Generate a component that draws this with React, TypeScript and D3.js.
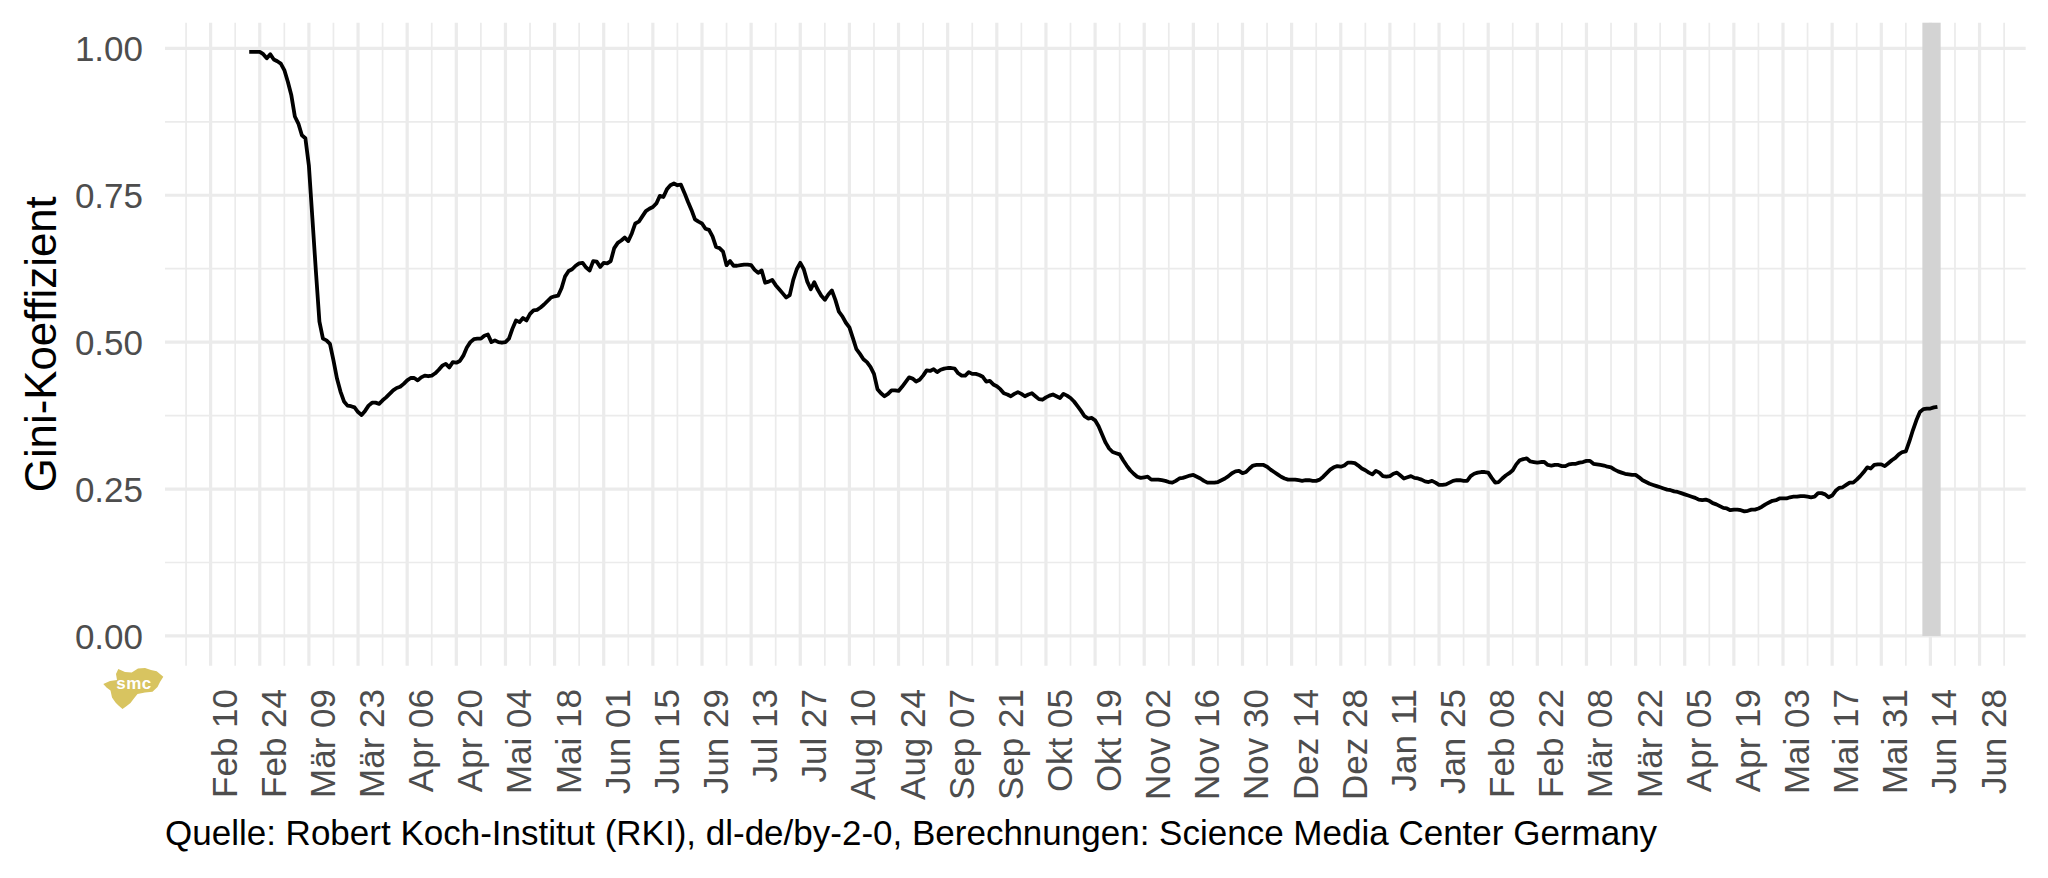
import React, { useEffect } from "react";
import * as d3 from "d3";

// ---------- data ----------
const seriesStart = "2020-02-21";
// daily Gini coefficient values starting at seriesStart
const giniValues = [
  0.994, 0.994, 0.994, 0.994, 0.990, 0.983, 0.990, 0.981, 0.978, 0.974,
  0.963, 0.943, 0.920, 0.884, 0.872, 0.852, 0.847, 0.800, 0.710, 0.620,
  0.535, 0.506, 0.503, 0.497, 0.469, 0.438, 0.416, 0.399, 0.392, 0.391,
  0.389, 0.381, 0.376, 0.383, 0.392, 0.397, 0.397, 0.395, 0.401, 0.406,
  0.412, 0.418, 0.422, 0.424, 0.429, 0.435, 0.439, 0.439, 0.435, 0.440,
  0.443, 0.442, 0.443, 0.447, 0.453, 0.460, 0.463, 0.457, 0.466, 0.465,
  0.468, 0.477, 0.491, 0.500, 0.505, 0.506, 0.506, 0.511, 0.513, 0.500,
  0.503, 0.500, 0.499, 0.500, 0.506, 0.523, 0.537, 0.534, 0.541, 0.537,
  0.548, 0.554, 0.555, 0.559, 0.564, 0.570, 0.576, 0.578, 0.579, 0.592,
  0.612, 0.621, 0.624, 0.630, 0.634, 0.635, 0.627, 0.622, 0.638, 0.637,
  0.628, 0.635, 0.634, 0.638, 0.660, 0.669, 0.673, 0.678, 0.672, 0.685,
  0.702, 0.705, 0.714, 0.723, 0.727, 0.730, 0.736, 0.749, 0.747, 0.760,
  0.767, 0.770, 0.767, 0.768, 0.754, 0.739, 0.725, 0.709, 0.705, 0.702,
  0.693, 0.691, 0.680, 0.662, 0.660, 0.654, 0.631, 0.638, 0.630, 0.630,
  0.631, 0.632, 0.632, 0.631, 0.623, 0.618, 0.622, 0.601, 0.603, 0.606,
  0.597, 0.590, 0.583, 0.576, 0.580, 0.606, 0.624, 0.635, 0.624, 0.603,
  0.590, 0.602, 0.589, 0.579, 0.572, 0.581, 0.588, 0.572, 0.552, 0.544,
  0.533, 0.525, 0.507, 0.488, 0.480, 0.471, 0.466, 0.458, 0.446, 0.420,
  0.413, 0.408, 0.412, 0.418, 0.418, 0.417, 0.424, 0.432, 0.440, 0.438,
  0.433, 0.436, 0.443, 0.452, 0.451, 0.454, 0.449, 0.453, 0.455, 0.456,
  0.456, 0.455, 0.447, 0.443, 0.443, 0.449, 0.446, 0.446, 0.444, 0.441,
  0.433, 0.434, 0.428, 0.425, 0.420, 0.413, 0.411, 0.408, 0.412, 0.415,
  0.412, 0.408, 0.411, 0.413, 0.408, 0.403, 0.402, 0.406, 0.409, 0.411,
  0.408, 0.405, 0.412, 0.409, 0.405, 0.399, 0.391, 0.383, 0.374, 0.370,
  0.371, 0.367, 0.357, 0.343, 0.329, 0.319, 0.313, 0.311, 0.309, 0.299,
  0.290, 0.282, 0.276, 0.271, 0.269, 0.270, 0.271, 0.266, 0.266, 0.266,
  0.265, 0.264, 0.262, 0.261, 0.264, 0.268, 0.269, 0.271, 0.273, 0.274,
  0.271, 0.268, 0.264, 0.261, 0.261, 0.261, 0.262, 0.265, 0.268, 0.272,
  0.277, 0.280, 0.281, 0.277, 0.279, 0.285, 0.290, 0.291, 0.291, 0.291,
  0.288, 0.283, 0.279, 0.275, 0.271, 0.268, 0.266, 0.266, 0.266, 0.265,
  0.264, 0.265, 0.265, 0.264, 0.264, 0.266, 0.271, 0.277, 0.283, 0.287,
  0.289, 0.288, 0.290, 0.295, 0.295, 0.294, 0.290, 0.285, 0.282, 0.278,
  0.275, 0.281, 0.278, 0.272, 0.271, 0.272, 0.276, 0.278, 0.273, 0.268,
  0.270, 0.272, 0.269, 0.268, 0.266, 0.263, 0.262, 0.264, 0.261, 0.257,
  0.257, 0.258, 0.261, 0.264, 0.265, 0.265, 0.264, 0.264, 0.272, 0.276,
  0.278, 0.279, 0.279, 0.278, 0.269, 0.261, 0.262, 0.268, 0.273, 0.277,
  0.282, 0.292, 0.299, 0.301, 0.302, 0.297, 0.296, 0.295, 0.296, 0.296,
  0.291, 0.290, 0.291, 0.291, 0.289, 0.289, 0.292, 0.293, 0.293, 0.295,
  0.296, 0.298, 0.298, 0.293, 0.292, 0.291, 0.290, 0.288, 0.287, 0.283,
  0.280, 0.278, 0.276, 0.275, 0.274, 0.274, 0.270, 0.265, 0.262, 0.259,
  0.257, 0.255, 0.253, 0.251, 0.249, 0.248, 0.246, 0.245, 0.243, 0.241,
  0.239, 0.237, 0.235, 0.232, 0.231, 0.232, 0.230, 0.226, 0.224, 0.221,
  0.218, 0.217, 0.214, 0.215, 0.215, 0.214, 0.212, 0.213, 0.215, 0.215,
  0.217, 0.220, 0.224, 0.227, 0.230, 0.231, 0.234, 0.234, 0.234, 0.236,
  0.237, 0.237, 0.238, 0.238, 0.237, 0.236, 0.237, 0.243, 0.243, 0.241,
  0.236, 0.239, 0.247, 0.252, 0.253, 0.257, 0.261, 0.261, 0.266, 0.272,
  0.279, 0.287, 0.285, 0.291, 0.292, 0.292, 0.289, 0.294, 0.299, 0.303,
  0.309, 0.313, 0.314, 0.331, 0.350, 0.367, 0.381, 0.386, 0.387, 0.387,
  0.389, 0.390,
];

const xDomainStart = "2020-01-28T00:00";
const xDomainEnd = "2021-07-11T03:36";
const firstTickDate = "2020-02-10";
const tickStepDays = 14;
const xTickLabels = [
  "Feb 10", "Feb 24", "Mär 09", "Mär 23", "Apr 06", "Apr 20", "Mai 04", "Mai 18",
  "Jun 01", "Jun 15", "Jun 29", "Jul 13", "Jul 27", "Aug 10", "Aug 24", "Sep 07",
  "Sep 21", "Okt 05", "Okt 19", "Nov 02", "Nov 16", "Nov 30", "Dez 14", "Dez 28",
  "Jan 11", "Jan 25", "Feb 08", "Feb 22", "Mär 08", "Mär 22", "Apr 05", "Apr 19",
  "Mai 03", "Mai 17", "Mai 31", "Jun 14", "Jun 28",
];
const yDomain = [-0.0506, 1.0436];
const yTicks = [0, 0.25, 0.5, 0.75, 1];
const yTickLabels = ["0.00", "0.25", "0.50", "0.75", "1.00"];
const yMinorTicks = [0.125, 0.375, 0.625, 0.875];
const highlightStart = "2021-06-11T17:00";
const highlightEnd = "2021-06-16T22:00";
const yTitle = "Gini-Koeffizient";
const captionText =
  "Quelle: Robert Koch-Institut (RKI), dl-de/by-2-0, Berechnungen: Science Media Center Germany";

// ---------- layout ----------
const W = 2048;
const H = 878;
const panel = { left: 165, right: 2025.7, top: 22.7, bottom: 665.7 };
const FONT = "'Liberation Sans', Arial, Helvetica, sans-serif";
const GRID = "#EBEBEB";

const parseDay = d3.timeParse("%Y-%m-%d");
const parseTime = d3.timeParse("%Y-%m-%dT%H:%M");

export default function App() {
  useEffect(() => {
    document.body.style.margin = "0";
  }, []);

  const x = d3
    .scaleTime()
    .domain([parseTime(xDomainStart)!, parseTime(xDomainEnd)!])
    .range([panel.left, panel.right]);
  const y = d3.scaleLinear().domain(yDomain).range([panel.bottom, panel.top]);

  const start = parseDay(seriesStart)!;
  const data = giniValues.map((v, i) => ({ date: d3.timeDay.offset(start, i), value: v }));

  const firstTick = parseDay(firstTickDate)!;
  const majorDates = xTickLabels.map((_, i) => d3.timeDay.offset(firstTick, i * tickStepDays));
  const [d0, d1] = x.domain();
  const minorDates: Date[] = [];
  for (let i = -1; i < xTickLabels.length; i++) {
    const d = d3.timeDay.offset(firstTick, i * tickStepDays + tickStepDays / 2);
    if (d >= d0 && d <= d1) minorDates.push(d);
  }

  const line = d3
    .line<{ date: Date; value: number }>()
    .x((d) => x(d.date))
    .y((d) => y(d.value));

  const hx0 = x(parseTime(highlightStart)!);
  const hx1 = x(parseTime(highlightEnd)!);

  const logoPts: [number, number][] = [
    [103.3, 684], [110, 681], [117, 680], [116, 674], [118.3, 669], [125, 672],
    [131.7, 672.5], [138, 668.5], [145, 668], [151, 670], [156.7, 671.2], [163.3, 676.7],
    [160, 682], [157.5, 687], [152.5, 691.7], [145, 692.5], [137.5, 694], [133.5, 699],
    [130.5, 703], [126, 706.5], [122.5, 709], [118.5, 705.5], [115.5, 702.5], [112, 697.5],
    [110.5, 690.5], [106.5, 687.5],
  ];
  const logoPath = d3.line().curve(d3.curveLinearClosed)(logoPts) || "";

  return (
    <svg
      width={W}
      height={H}
      viewBox={`0 0 ${W} ${H}`}
      style={{ position: "absolute", left: 0, top: 0, background: "#fff", display: "block" }}
      fontFamily={FONT}
    >
      <rect x={0} y={0} width={W} height={H} fill="#fff" />
      {/* minor grid */}
      {yMinorTicks.map((t) => (
        <line key={"ym" + t} x1={panel.left} x2={panel.right} y1={y(t)} y2={y(t)} stroke={GRID} strokeWidth={1.7} />
      ))}
      {minorDates.map((d, i) => (
        <line key={"xm" + i} x1={x(d)} x2={x(d)} y1={panel.top} y2={panel.bottom} stroke={GRID} strokeWidth={1.7} />
      ))}
      {/* major grid */}
      {yTicks.map((t) => (
        <line key={"yM" + t} x1={panel.left} x2={panel.right} y1={y(t)} y2={y(t)} stroke={GRID} strokeWidth={3.2} />
      ))}
      {majorDates.map((d, i) => (
        <line key={"xM" + i} x1={x(d)} x2={x(d)} y1={panel.top} y2={panel.bottom} stroke={GRID} strokeWidth={3.2} />
      ))}
      {/* highlight band */}
      <rect x={hx0} y={panel.top} width={hx1 - hx0} height={y(0) - panel.top} fill="#D3D3D3" />
      {/* line */}
      <path d={line(data) || ""} fill="none" stroke="#000" strokeWidth={3.8} strokeLinejoin="round" />
      {/* y tick labels */}
      {yTicks.map((t, i) => (
        <text key={"yl" + t} x={143} y={y(t)} dy="0.36em" textAnchor="end" fontSize={35} fill="#4D4D4D">
          {yTickLabels[i]}
        </text>
      ))}
      {/* x tick labels */}
      {majorDates.map((d, i) => (
        <text
          key={"xl" + i}
          transform={`translate(${x(d) + 26},689) rotate(-90)`}
          textAnchor="end"
          fontSize={35}
          fill="#4D4D4D"
        >
          {xTickLabels[i]}
        </text>
      ))}
      {/* y title */}
      <text transform={`translate(56,${(panel.top + panel.bottom) / 2}) rotate(-90)`} textAnchor="middle" fontSize={43.75} fill="#000">
        {yTitle}
      </text>
      {/* caption */}
      <text x={165} y={845} fontSize={35} fill="#000">
        {captionText}
      </text>
      {/* logo */}
      <g>
        <path d={logoPath} fill="#D8C460" />
        <text x={134} y={689} textAnchor="middle" fontSize={17} fontWeight="bold" fill="#fff" letterSpacing={0.5}>
          smc
        </text>
      </g>
    </svg>
  );
}
